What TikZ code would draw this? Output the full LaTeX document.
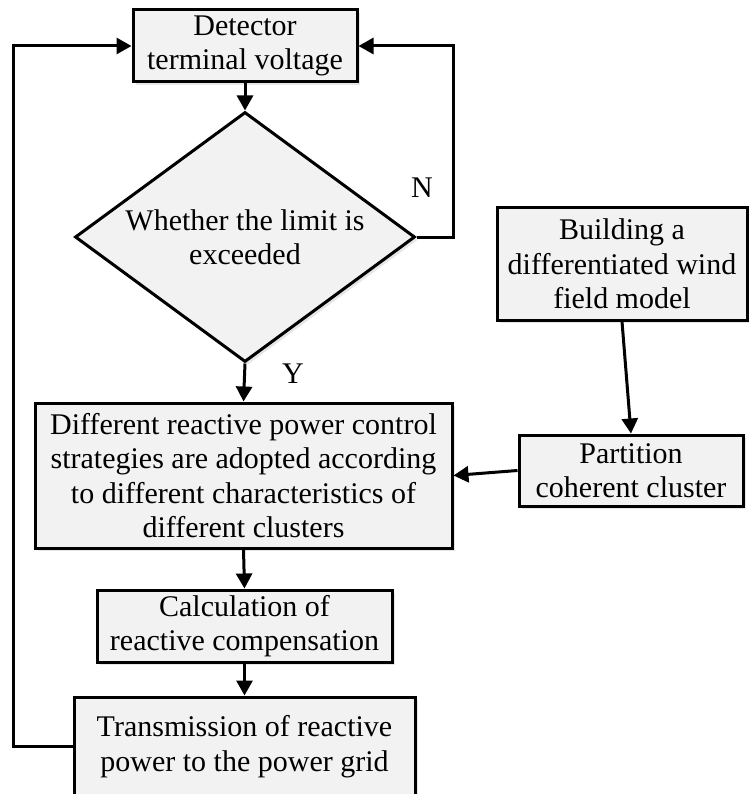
\documentclass[tikz,border=0pt]{standalone}
\usepackage{fontspec}
\setmainfont{Liberation Serif}
\usepackage{tikz}
\usetikzlibrary{arrows.meta,shapes.geometric,shadows}

\begin{document}
\begin{tikzpicture}[x=1pt,y=-1pt]

	\tikzstyle box=[draw, line width=3pt, fill={rgb,255:red,242;green,242;blue,242}, inner sep=0pt, align=center,
		font=\fontsize{30}{34.5}\selectfont,
		drop shadow={shadow xshift=3pt, shadow yshift=-3pt, opacity=0.2}];
	\tikzstyle flow lines=[line width=3pt, -{Triangle[length=15pt,width=16pt]}];
	\tikzstyle loop lines=[line width=3pt];
	\tikzstyle mark text=[font=\fontsize{30}{34.5}\selectfont];

	\useasboundingbox (0,0) rectangle (748,794);

	% main column
	\node[box, minimum width=224pt, minimum height=72pt] (det) at (245,46) {Detector\\terminal voltage};
	\node[box, diamond, aspect=1.36, minimum width=340pt, minimum height=250pt] (dia) at (245,237) {Whether the limit is\\exceeded};
	\node[box, minimum width=417pt, minimum height=145pt] (strat) at (243.5,475.5) {Different reactive power control\\strategies are adopted according\\to different characteristics of\\different clusters};
	\node[box, minimum width=295pt, minimum height=72pt] (calc) at (244.5,626) {Calculation of\\reactive compensation};
	\node[box, minimum width=341pt, minimum height=99pt] (trans) at (244.5,746.5) {Transmission of reactive\\power to the power grid};

	% side column
	\node[box, minimum width=250pt, minimum height=112pt] (build) at (622,264) {Building a\\differentiated wind\\field model};
	\node[box, minimum width=224pt, minimum height=71pt] (part) at (631,470.5) {Partition\\coherent cluster};

	\node[mark text] (nlab) at (422,188) {N};
	\node[mark text] (ylab) at (293,374) {Y};

	\coordinate (rloop) at (453,237);
	\coordinate (lloop) at (13,746.5);

	\draw[flow lines] (det.south) -- (dia.north);
	\draw[flow lines] (dia.south) -- (strat.north);
	\draw[flow lines] (strat.south) -- (calc.north);
	\draw[flow lines] (calc.south) -- (trans.north);
	\draw[flow lines] (build.south) -- (part.north);
	\draw[flow lines] (part.west) -- (strat.east);
	\draw[loop lines, -{Triangle[length=15pt,width=16pt]}] (dia.east) -- (rloop) |- (det.east);
	\draw[loop lines, -{Triangle[length=15pt,width=16pt]}] (trans.west) -- (lloop) |- (det.west);

\end{tikzpicture}
\end{document}
